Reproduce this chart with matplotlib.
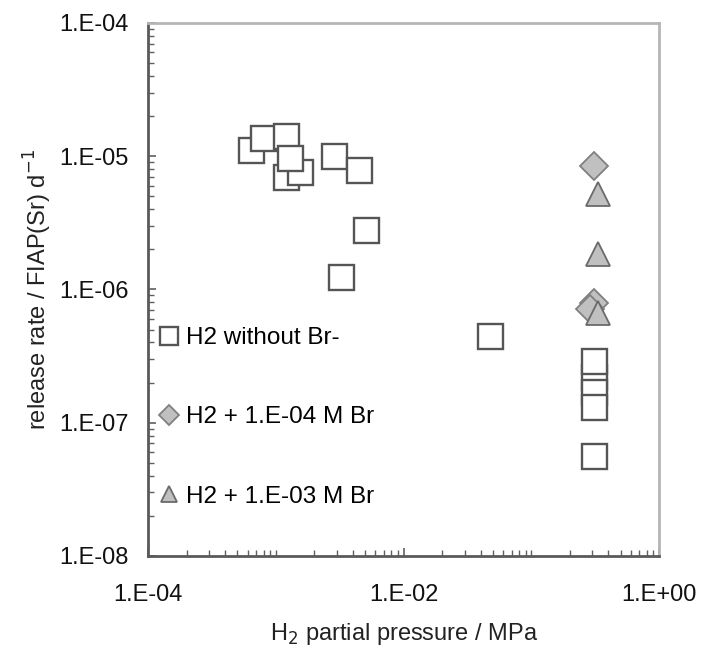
import matplotlib
matplotlib.use("Agg")
import matplotlib.pyplot as plt
from matplotlib.ticker import FixedLocator, FuncFormatter
import numpy as np

plt.rcParams['font.family'] = ['Liberation Sans', 'DejaVu Sans']

# H2 without Br-
sq_x = [6.4e-4, 7.9e-4, 1.20e-3, 1.20e-3, 1.55e-3, 1.29e-3, 2.86e-3, 4.49e-3, 5.09e-3, 3.24e-3, 0.047,
        0.31, 0.31, 0.31, 0.31, 0.31]
sq_y = [1.11e-5, 1.37e-5, 1.42e-5, 7.0e-6, 7.6e-6, 9.7e-6, 1.0e-5, 7.9e-6, 2.8e-6, 1.24e-6, 4.5e-7,
        2.2e-7, 1.7e-7, 2.9e-7, 1.31e-7, 5.6e-8]
# H2 + 1.E-04 M Br
dia_x = [0.31, 0.31, 0.29]
dia_y = [8.45e-6, 7.9e-7, 7.1e-7]
# H2 + 1.E-03 M Br
tri_x = [0.33, 0.33, 0.33]
tri_y = [5.2e-6, 1.85e-6, 6.7e-7]

labels = ["H2 without Br-", "H2 + 1.E-04 M Br", "H2 + 1.E-03 M Br"]
x_labeled = [1e-4, 1e-2, 1e0]
y_labeled = [1e-8, 1e-7, 1e-6, 1e-5, 1e-4]

fig = plt.figure(figsize=(7.02, 6.54), dpi=100)
ax = fig.add_axes([0.211, 0.150, 0.728, 0.815])
ax.set_xscale('log')
ax.set_yscale('log')
ax.set_xlim(1e-4, 1e0)
ax.set_ylim(1e-8, 1e-4)

ax.plot(sq_x, sq_y, linestyle='none', marker='s', markersize=18, markerfacecolor='white',
        markeredgecolor='#555555', markeredgewidth=1.7, label=labels[0], zorder=3)
ax.plot(dia_x, dia_y, linestyle='none', marker='D', markersize=14, markerfacecolor='#c0c0c0',
        markeredgecolor='#808080', markeredgewidth=1.3, label=labels[1], zorder=4)
ax.plot(tri_x, tri_y, linestyle='none', marker='^', markersize=17, markerfacecolor='#c0c0c0',
        markeredgecolor='#6a6a6a', markeredgewidth=1.3, label=labels[2], zorder=5)

# ticks
ax.xaxis.set_major_locator(FixedLocator(x_labeled))
minor_x = [m * 10.0 ** e for e in range(-4, 0) for m in range(1, 10) if not (m == 1 and 10.0 ** e in x_labeled)]
ax.xaxis.set_minor_locator(FixedLocator(minor_x))
ax.yaxis.set_major_locator(FixedLocator(y_labeled))
ax.yaxis.set_minor_locator(FixedLocator([m * 10.0 ** e for e in range(-8, -4) for m in range(2, 10)]))

def fmt(v, pos):
    e = int(round(np.log10(v)))
    return "1.E%s%02d" % ('+' if e >= 0 else '-', abs(e))

ax.xaxis.set_major_formatter(FuncFormatter(fmt))
ax.yaxis.set_major_formatter(FuncFormatter(fmt))
ax.xaxis.set_minor_formatter(FuncFormatter(lambda v, p: ""))
ax.yaxis.set_minor_formatter(FuncFormatter(lambda v, p: ""))

ax.tick_params(which='both', direction='in', color='#606060', labelsize=17, labelcolor='#111111')
ax.tick_params(which='major', length=6, width=1.2)
ax.tick_params(which='minor', length=4, width=1.0)
ax.tick_params(axis='x', which='major', pad=20)
ax.tick_params(axis='y', which='major', pad=14)
ax.tick_params(top=False, right=False, which='both')

for s in ['left', 'bottom']:
    ax.spines[s].set_color('#5a5a5a')
    ax.spines[s].set_linewidth(2)
for s in ['top', 'right']:
    ax.spines[s].set_color('#b5b5b5')
    ax.spines[s].set_linewidth(2)

ax.set_xlabel("H$_2$ partial pressure / MPa", fontsize=17, color='#222222', labelpad=11)
ax.set_ylabel("release rate / FIAP(Sr) d$^{-1}$", fontsize=17, color='#222222', labelpad=4)

leg = ax.legend(loc='upper left', bbox_to_anchor=(0.0, 0.438), frameon=False, fontsize=17.5,
                markerscale=0.7, labelspacing=2.35, handletextpad=0.05, handlelength=1.3,
                borderaxespad=0.0, borderpad=0.2)

fig.savefig("out.png", dpi=100)
